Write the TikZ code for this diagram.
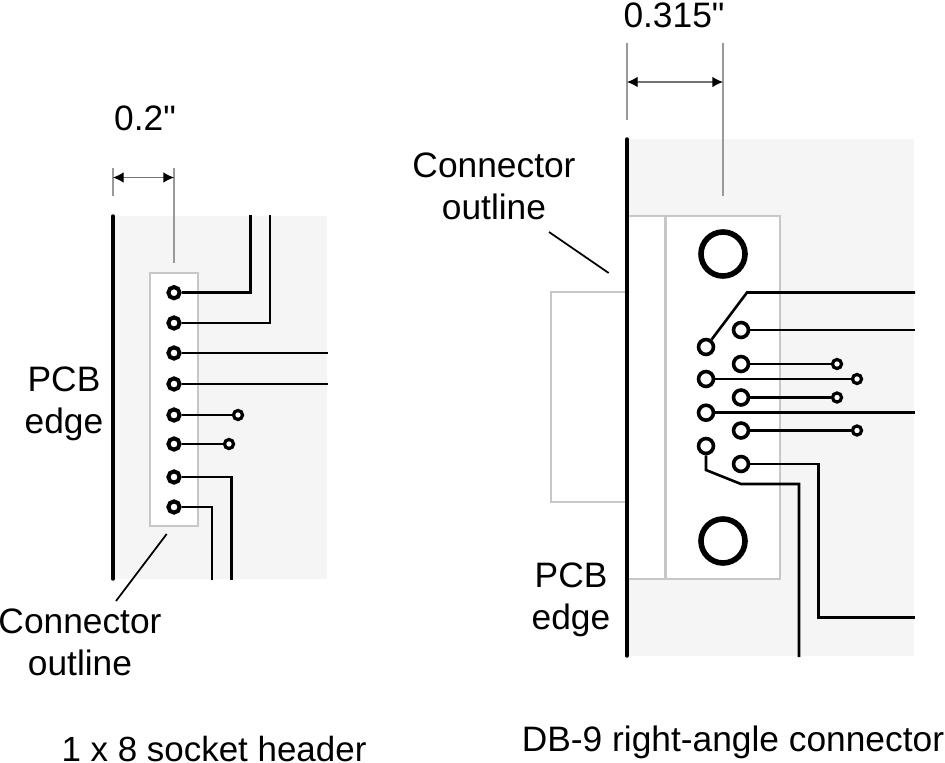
\documentclass[tikz,border=0pt]{standalone}
\usepackage{fontspec}
\setmainfont[Ligatures=TeXOff]{Liberation Sans}
\usetikzlibrary{arrows.meta}
\begin{document}
\begin{tikzpicture}[x=0.75pt,y=-0.75pt,
  board/.style={fill=black!4,draw=none},
  outline/.style={draw=black!22,line width=1.6pt,fill=white},
  edgeline/.style={line width=2.6pt,line cap=round},
  trace/.style={line width=1.95pt},
  thintrace/.style={line width=1.7pt},
  dimline/.style={draw=black!40,line width=1pt},
  dimarrow/.style={draw=black!55,line width=1pt,{Latex[length=8pt,width=8pt,black]}-{Latex[length=8pt,width=8pt,black]}},
  leader/.style={line width=1.3pt},
  pinl/.style={circle,draw,fill=white,line width=3pt,inner sep=0pt,minimum size=8.4pt},
  pinr/.style={circle,draw,fill=white,line width=2.7pt,inner sep=0pt,minimum size=11.2pt},
  via/.style={circle,draw,fill=white,line width=2.4pt,inner sep=0pt,minimum size=6.8pt},
  hole/.style={circle,draw,fill=white,line width=4.2pt,inner sep=0pt,minimum size=33pt},
  lab/.style={font=\fontsize{26.5}{31.5}\selectfont,align=center,inner sep=0pt},
]
\useasboundingbox (0,0) rectangle (945,763);
% ---------- left: socket header
\fill[board] (113,216) rectangle (327,579);
\draw[outline] (150,273) rectangle (198,526);
\coordinate (dl1) at (113,168); \coordinate (dl1b) at (113,196);
\coordinate (dl2) at (174,168); \coordinate (dl2b) at (174,263);
\draw[dimline] (dl1) -- (dl1b);
\draw[dimline] (dl2) -- (dl2b);
\draw[dimarrow] (dl1 |- 0,177.5) -- (dl2 |- 0,177.5);
\coordinate (la) at (113,216); \coordinate (lb) at (113,579);
\draw[edgeline] (la) -- (lb);
\foreach \n/\y in {1/292.7,2/323,3/353,4/384,5/415,6/444,7/477,8/507}
  \node[pinl] (p\n) at (174,\y) {};
\node[via] (v5) at (238,415) {};
\node[via] (v6) at (229,444) {};
\coordinate (t1) at (250.7,215);
\coordinate (t2) at (270,215);
\coordinate (t3) at (328,353);
\coordinate (t4) at (328,384);
\coordinate (t7) at (231.5,580);
\coordinate (t8) at (212,580);
\draw[trace] (p1) -| (t1);
\draw[trace] (p2) -| (t2);
\draw[trace] (p3) -- (t3);
\draw[trace] (p4) -- (t4);
\draw[thintrace] (p5) -- (v5);
\draw[thintrace] (p6) -- (v6);
\draw[trace] (p7) -| (t7);
\draw[trace] (p8) -| (t8);
\coordinate (ll1) at (166.7,534); \coordinate (ll2) at (116,601);
\draw[leader] (ll1) -- (ll2);
% ---------- right: DB-9
\fill[board] (627,139) rectangle (914,656);
\draw[outline] (551,292) rectangle (627,502);
\draw[outline] (627,216) rectangle (780,579);
\draw[outline] (665.5,216) -- (665.5,579);
\coordinate (dr1) at (627,43); \coordinate (dr1b) at (627,120);
\coordinate (dr2) at (723,43); \coordinate (dr2b) at (723,196);
\draw[dimline] (dr1) -- (dr1b);
\draw[dimline] (dr2) -- (dr2b);
\draw[dimarrow] (dr1 |- 0,82) -- (dr2 |- 0,82);
\coordinate (ra) at (627,139); \coordinate (rb) at (627,656);
\draw[edgeline] (ra) -- (rb);
\node[hole] (h1) at (723,254) {};
\node[hole] (h2) at (723,541) {};
\foreach \n/\y in {1/347,2/379,3/412.7,4/446}
  \node[pinr] (a\n) at (706,\y) {};
\foreach \n/\y in {1/330,2/364,3/397.5,4/430.5,5/464}
  \node[pinr] (b\n) at (741,\y) {};
\node[via] (w1) at (837,364) {};
\node[via] (w2) at (857,379) {};
\node[via] (w3) at (837,397.5) {};
\node[via] (w4) at (857,430.5) {};
\coordinate (s1) at (747,292.5); \coordinate (e1) at (915,292.5);
\coordinate (e2) at (915,330);
\coordinate (e3) at (915,412.7);
\coordinate (k1) at (818.5,617.7); \coordinate (e5) at (915,617.7);
\coordinate (k2) at (706,470); \coordinate (k3) at (741,484);
\coordinate (e6) at (799,657);
\draw[trace] (a1) -- (s1) -- (e1);
\draw[trace] (b1) -- (e2);
\draw[thintrace] (b2) -- (w1);
\draw[thintrace] (a2) -- (w2);
\draw[thintrace] (b3) -- (w3);
\draw[trace] (a3) -- (e3);
\draw[thintrace] (b4) -- (w4);
\draw[trace] (b5) -| (k1) -- (e5);
\draw[trace] (a4) -- (k2) -- (k3) -| (e6);
\coordinate (lr1) at (549,232); \coordinate (lr2) at (608.7,273);
\draw[leader] (lr1) -- (lr2);
% ---------- labels
\node[lab] (n1) at (145,118) {0.2"};
\node[lab] (n2) at (674,15) {0.315"};
\node[lab] (n3) at (494,186) {Connector\\outline};
\node[lab] (n4) at (64,404) {PCB\\edge};
\node[lab] (n5) at (80,642) {Connector\\outline};
\node[lab] (n6) at (571,600) {PCB\\edge};
\node[lab,font=\fontsize{26.2}{31.5}\selectfont] (n7) at (214,749) {1 x 8 socket header};
\node[lab] (n8) at (733,742) {DB-9 right-angle connector};
\end{tikzpicture}
\end{document}
